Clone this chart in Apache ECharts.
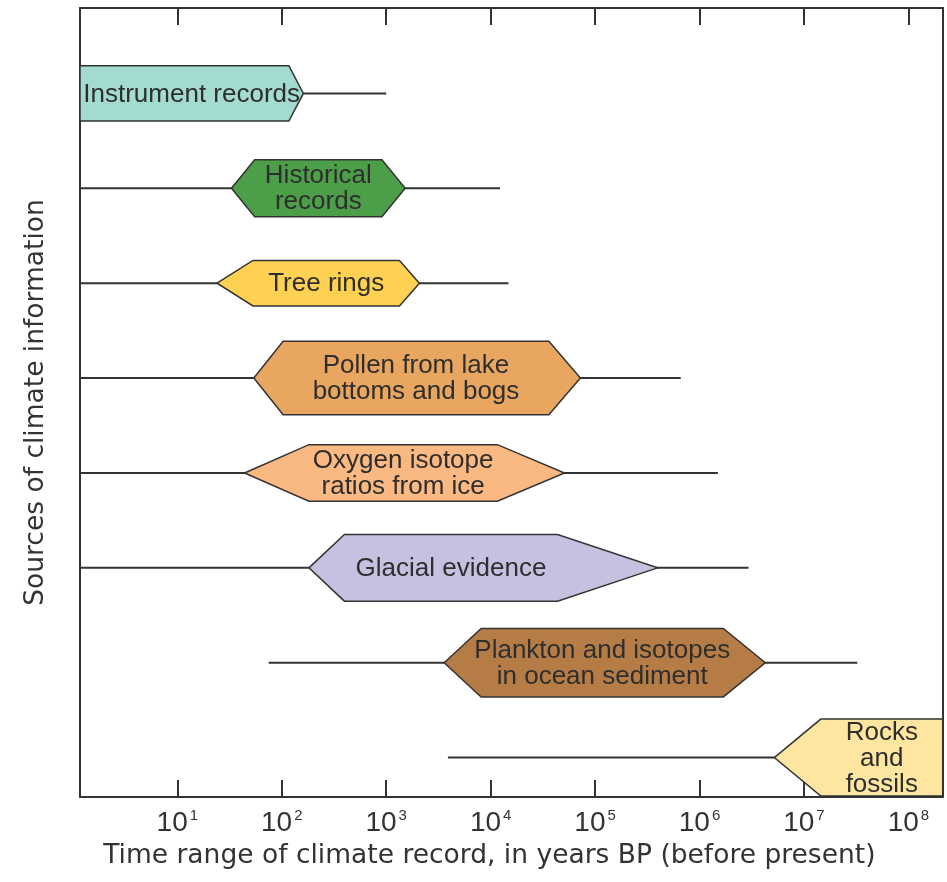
<!DOCTYPE html>
<html>
<head>
<meta charset="utf-8">
<script src="https://cdn.jsdelivr.net/npm/echarts@6/dist/echarts.min.js"></script>
<style>
html,body{margin:0;padding:0;background:#ffffff;}
#chart{width:947px;height:882px;}
</style>
</head>
<body>
<div id="chart"></div>
<script>
// ---------------- DATA (years before present; null = runs past the axis end) ----------------
const sources = [
  'Instrument records',
  'Historical\nrecords',
  'Tree rings',
  'Pollen from lake\nbottoms and bogs',
  'Oxygen isotope\nratios from ice',
  'Glacial evidence',
  'Plankton and isotopes\nin ocean sediment',
  'Rocks\nand\nfossils'
];
// thin line: oldest/youngest extent of the record
const recordStart = [null, null, null, null, null, null, 75, 3900];
const recordEnd   = [1000, 12300, 14800, 661000, 1500000, 2950000, 32400000, null];
// shaded band: outer (pointed) ends and inner (full-height) ends
const bandStartOuter = [null, 33, 24, 54, 44, 182, 3590, 5200000];
const bandStartInner = [null, 55, 53, 103, 182, 398, 8110, 14500000];
const bandEndInner   = [117, 910, 1340, 36100, 11600, 43700, 1690000, null];
const bandEndOuter   = [161, 1520, 2080, 72300, 51000, 397000, 4260000, null];
// axis
const axisMinYears = 1.17;
const axisMaxYears = 2.13e8;
const xAxisTitle = 'Time range of climate record, in years BP (before present)';
const yAxisTitle = 'Sources of climate information';

// ---------------- STYLE ----------------
const fills = ['#a3dbd1', '#4c9f48', '#fed153', '#e8a660', '#fab882', '#c5c1e1', '#b57c46', '#fee6a1'];
const bandHalfHeight = [27.7, 28.5, 22.7, 36.7, 28.3, 33.3, 34.2, 38.5];
const ink = '#333333';

const data = sources.map((s, i) => [
  i + 1,
  recordStart[i], bandStartOuter[i], bandStartInner[i],
  bandEndInner[i], bandEndOuter[i], recordEnd[i]
]);

function renderItem(params, api) {
  const i = params.dataIndex;
  const cs = params.coordSys;
  const L = cs.x, R = cs.x + cs.width;
  const row = api.value(0);
  const cy = api.coord([10, row])[1];
  const px = (k, fallback) => {
    const v = api.value(k);
    if (v === null || v === undefined || isNaN(v)) return fallback;
    return api.coord([v, row])[0];
  };
  const lineX1 = px(1, L);
  const lineX6 = px(6, R);
  const so = px(2, L), si = px(3, L), ei = px(4, R), eo = px(5, R);
  const h = bandHalfHeight[i];
  const pts = [];
  pts.push([so, cy]);
  pts.push([si, cy - h]);
  pts.push([ei, cy - h]);
  pts.push([eo, cy]);
  pts.push([ei, cy + h]);
  pts.push([si, cy + h]);
  let tx;
  if (api.value(2) === null || isNaN(api.value(2))) tx = (L + eo) / 2;
  else tx = (si + ei) / 2;
  return {
    type: 'group',
    children: [
      { type: 'line', shape: { x1: lineX1, y1: cy, x2: lineX6, y2: cy },
        style: { stroke: ink, lineWidth: 2 } },
      { type: 'polygon', shape: { points: pts },
        style: { fill: fills[i], stroke: ink, lineWidth: 1.5, lineJoin: 'miter' } },
      { type: 'text', x: tx, y: cy + 1,
        style: { text: sources[i], fill: '#2e2e2e', align: 'center', verticalAlign: 'middle',
          font: '26px "Liberation Sans", Arial, sans-serif', lineHeight: 26 } }
    ]
  };
}

function tickFmt(v) {
  const e = Math.log10(v);
  const r = Math.round(e);
  if (Math.abs(e - r) > 1e-6) return '';
  return '{b|10}{e|' + r + '}';
}

const chart = echarts.init(document.getElementById('chart'), null, { renderer: 'canvas' });
chart.setOption({
  animation: false,
  backgroundColor: '#ffffff',
  grid: { left: 80, top: 8, right: 4.3, bottom: 85, outerBoundsMode: 'none', containLabel: false },
  xAxis: [
    {
      type: 'log', logBase: 10, min: axisMinYears, max: axisMaxYears, position: 'bottom',
      axisLine: { show: true, lineStyle: { color: ink, width: 2 } },
      axisTick: { show: true, inside: true, length: 17, lineStyle: { color: ink, width: 2 } },
      minorTick: { show: false },
      splitLine: { show: false },
      axisLabel: {
        show: true, margin: 11, formatter: tickFmt, color: ink,
        fontFamily: '"Liberation Sans", Arial, sans-serif', fontSize: 28,
        rich: {
          b: { fontSize: 28, lineHeight: 30, color: ink, fontFamily: '"Liberation Sans", Arial, sans-serif' },
          e: { fontSize: 15, lineHeight: 21, verticalAlign: 'top', padding: [0, 0, 0, 2], color: ink, fontFamily: '"Liberation Sans", Arial, sans-serif' }
        }
      },
      name: xAxisTitle, nameLocation: 'middle', nameGap: 46, nameMoveOverlap: false,
      nameTextStyle: { fontFamily: '"DejaVu Sans", sans-serif', fontSize: 26.5, color: ink, padding: [0, 44, 0, 0] }
    },
    {
      type: 'log', logBase: 10, min: axisMinYears, max: axisMaxYears, position: 'top',
      axisLine: { show: true, lineStyle: { color: ink, width: 2 } },
      axisTick: { show: true, inside: true, length: 17, lineStyle: { color: ink, width: 2 } },
      minorTick: { show: false },
      splitLine: { show: false },
      axisLabel: { show: false }
    }
  ],
  yAxis: [
    {
      type: 'value', inverse: true, min: 0.1, max: 8.415, position: 'left',
      axisLine: { show: true, lineStyle: { color: ink, width: 2 } },
      axisTick: { show: false }, axisLabel: { show: false }, splitLine: { show: false },
      name: yAxisTitle, nameLocation: 'middle', nameGap: 30, nameRotate: 90, nameMoveOverlap: false,
      nameTextStyle: { fontFamily: '"DejaVu Sans", sans-serif', fontSize: 26.5, color: ink }
    },
    {
      type: 'value', inverse: true, min: 0.1, max: 8.415, position: 'right',
      axisLine: { show: true, lineStyle: { color: ink, width: 2 } },
      axisTick: { show: false }, axisLabel: { show: false }, splitLine: { show: false }
    }
  ],
  series: [{
    type: 'custom',
    xAxisIndex: 0, yAxisIndex: 0,
    renderItem: renderItem,
    encode: { x: [1, 2, 3, 4, 5, 6], y: 0 },
    data: data,
    clip: true,
    silent: true
  }]
});
</script>
</body>
</html>
